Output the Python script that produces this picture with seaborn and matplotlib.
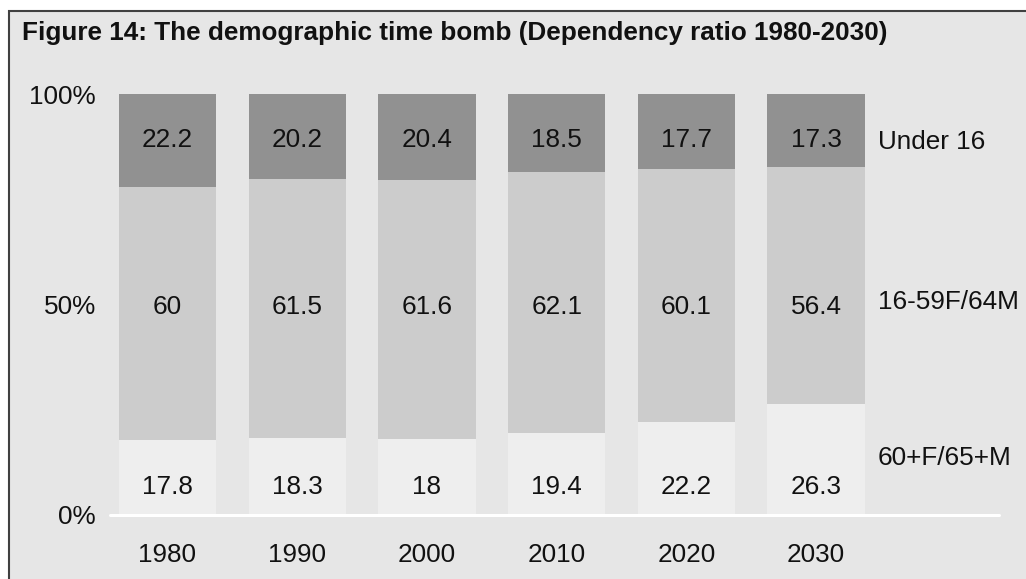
import matplotlib
matplotlib.use("Agg")
import matplotlib.pyplot as plt
from matplotlib.patches import Rectangle
import numpy as np
import pandas as pd
import seaborn as sns

# Dependency ratio shares (%) by year
years = ["1980", "1990", "2000", "2010", "2020", "2030"]
older = [17.8, 18.3, 18.0, 19.4, 22.2, 26.3]        # 60+F/65+M
working = [60.0, 61.5, 61.6, 62.1, 60.1, 56.4]      # 16-59F/64M
under16 = [22.2, 20.2, 20.4, 18.5, 17.7, 17.3]      # Under 16
series_names = ["60+F/65+M", "16-59F/64M", "Under 16"]
yticks = [0, 50, 100]
ytick_labels = ["0%", "50%", "100%"]
title = "Figure 14: The demographic time bomb (Dependency ratio 1980-2030)"

sns.set_theme(style="white")
plt.rcParams["font.family"] = ["Liberation Sans", "DejaVu Sans"]

BG = "#e6e6e6"
TEXT = "#111111"
FS = 18.8
colors = {"60+F/65+M": "#eeeeee", "16-59F/64M": "#cccccc", "Under 16": "#919191"}

df = pd.DataFrame({"year": years, "older": older, "working": working, "under16": under16})
df["c1"] = df["older"]
df["c2"] = df["older"] + df["working"]
df["c3"] = df["c2"] + df["under16"]

fig = plt.figure(figsize=(10.26, 5.79), dpi=100, facecolor="white")
fig.patches.append(Rectangle((8.5 / 1026, -0.1), 1.2, (579 - 10.5) / 579 + 0.1,
                             transform=fig.transFigure, facecolor=BG,
                             edgecolor="#404040", linewidth=1.5, zorder=-1))

ax = fig.add_axes([110 / 1026, (579 - 515) / 579, 889 / 1026, 421 / 579])
ax.set_facecolor("none")
ax.set_zorder(1)

# Stacked bars drawn as cumulative layers, tallest first
for col, name in [("c3", "Under 16"), ("c2", "16-59F/64M"), ("c1", "60+F/65+M")]:
    sns.barplot(data=df, x="year", y=col, order=years, color=colors[name],
                width=0.75, saturation=1, edgecolor="none", linewidth=0, ax=ax)

ax.set_xlim(-0.443, 6.41)
ax.set_ylim(0, 100)
ax.axhline(0, color="white", linewidth=2.2, zorder=5, clip_on=False)

for s in ax.spines.values():
    s.set_visible(False)

ax.set_yticks(yticks)
ax.set_yticklabels(ytick_labels)
ax.tick_params(axis="y", length=0, pad=10, labelsize=FS, labelcolor=TEXT)
ax.tick_params(axis="x", length=0, pad=20, labelsize=FS, labelcolor=TEXT)
ax.set_xlabel("")
ax.set_ylabel("")

# Segment value labels
label_rows = [(older, 0.066), (working, 0.494), (under16, 0.891)]
trans = ax.get_xaxis_transform()
for vals, yf in label_rows:
    for i, v in enumerate(vals):
        ax.text(i, yf, f"{v:g}", transform=trans, ha="center", va="center",
                fontsize=FS, color=TEXT)

# Series names at the right
for name, yf in [("Under 16", 0.886), ("16-59F/64M", 0.506), ("60+F/65+M", 0.135)]:
    ax.text(0.864, yf, name, transform=ax.transAxes, ha="left", va="center",
            fontsize=FS, color=TEXT)

fig.text(22 / 1026, 1 - 33 / 579, title, ha="left", va="center",
         fontsize=18.8, fontweight="bold", color=TEXT)

fig.savefig("out.png", dpi=100, facecolor="white")
